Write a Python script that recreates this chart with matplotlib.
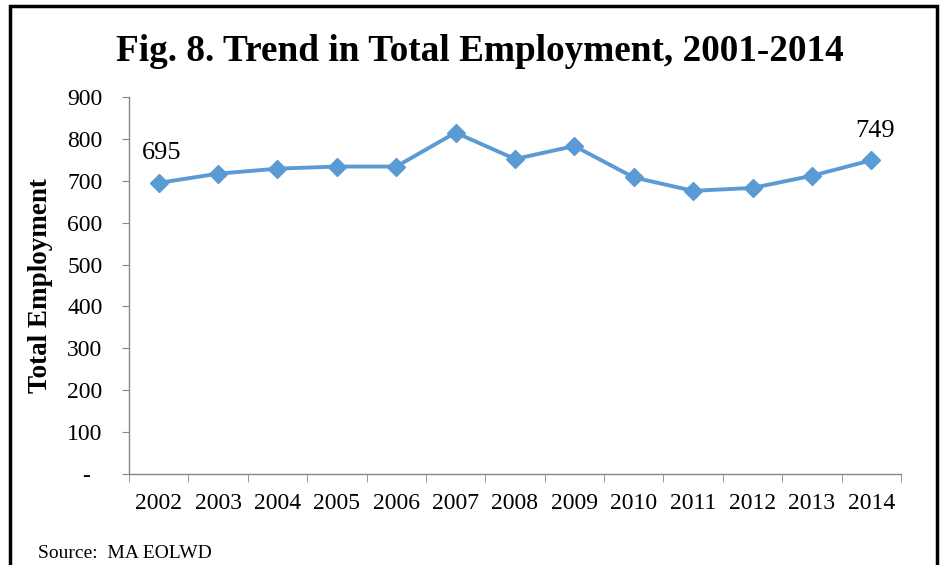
import numpy as np
import matplotlib.pyplot as plt
from matplotlib.patches import Rectangle

plt.rcParams['font.family'] = ['Liberation Serif', 'DejaVu Serif']

# data
years = ['2002', '2003', '2004', '2005', '2006', '2007', '2008',
         '2009', '2010', '2011', '2012', '2013', '2014']
employment = [695, 717, 729, 734, 734, 815, 752, 783, 708, 676, 683, 712, 749]
y_ticks = [0, 100, 200, 300, 400, 500, 600, 700, 800, 900]
y_tick_labels = ['-  ', '100', '200', '300', '400', '500', '600', '700', '800', '900']

line_color = '#5B9BD5'
axis_color = '#868686'

fig = plt.figure(figsize=(9.4, 5.65), dpi=100)
ax = fig.add_axes([0.1372, 0.161, 0.8213, 0.6673])

x = np.arange(len(years))
ax.plot(x, employment, color=line_color, linewidth=2.8,
        marker='D', markersize=9, markeredgecolor=line_color)

# labels on first and last point
ax.annotate(f'{employment[0]}', (x[0], employment[0]), xytext=(2, 17),
            textcoords='offset points', ha='center', va='baseline', fontsize=19)
ax.annotate(f'{employment[-1]}', (x[-1], employment[-1]), xytext=(3, 17),
            textcoords='offset points', ha='center', va='baseline', fontsize=19)

ax.set_xlim(-0.5, len(years) - 0.5)
ax.set_ylim(0, 900)
ax.set_yticks(y_ticks)
ax.set_yticklabels(y_tick_labels, fontsize=17)
ax.set_xticks(x)
ax.set_xticklabels(years, fontsize=17)
ax.set_xticks(np.arange(-0.5, len(years)), minor=True)
ax.tick_params(axis='x', which='major', length=0, pad=14)
ax.tick_params(axis='x', which='minor', length=6, color=axis_color, direction='out')
ax.tick_params(axis='y', length=5, color=axis_color, pad=14)

for side in ['top', 'right']:
    ax.spines[side].set_visible(False)
for side in ['left', 'bottom']:
    ax.spines[side].set_color(axis_color)
    ax.spines[side].set_linewidth(1)

ax.set_ylabel('Total Employment', fontsize=19.5, fontweight='bold', labelpad=10)

fig.text(0.511, 0.908, 'Fig. 8. Trend in Total Employment, 2001-2014',
         ha='center', va='center', fontsize=26.8, fontweight='bold')
fig.text(0.04, 0.02, 'Source:  MA EOLWD', ha='left', va='center', fontsize=14)

# border around the figure (bottom edge cut off)
fig.patches.append(Rectangle((0.011, -0.1), 0.986, 1.09, transform=fig.transFigure,
                             fill=False, edgecolor='black', linewidth=2.5))

fig.savefig('out.png', dpi=100)
